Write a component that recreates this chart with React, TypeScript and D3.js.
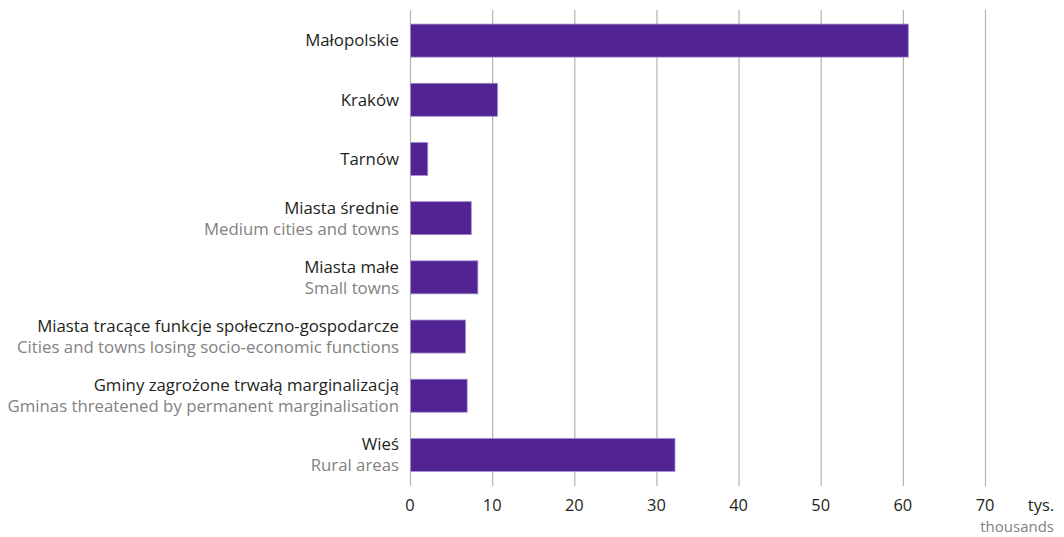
import React, { useRef, useEffect } from "react";
import * as d3 from "d3";

const width = 1064;
const height = 537;

// categories (Polish) and English subtitles
const namesPl = [
  "Małopolskie",
  "Kraków",
  "Tarnów",
  "Miasta średnie",
  "Miasta małe",
  "Miasta tracące funkcje społeczno-gospodarcze",
  "Gminy zagrożone trwałą marginalizacją",
  "Wieś",
];
const namesEn = [
  "",
  "",
  "",
  "Medium cities and towns",
  "Small towns",
  "Cities and towns losing socio-economic functions",
  "Gminas threatened by permanent marginalisation",
  "Rural areas",
];
// values in thousands
const values = [60.6, 10.6, 2.1, 7.4, 8.2, 6.7, 6.9, 32.2];
const ticks = [0, 10, 20, 30, 40, 50, 60, 70];

const font = "'Open Sans', sans-serif";

export default function App() {
  const svgRef = useRef<SVGSVGElement>(null);

  useEffect(() => {
    if (!svgRef.current) return;
    const svg = d3.select(svgRef.current);
    svg.selectAll("*").remove();

    const x = d3.scaleLinear().domain([0, 70]).range([410, 985]);
    const y = d3
      .scaleBand<number>()
      .domain(d3.range(values.length))
      .range([11, 484.5])
      .paddingInner(0.442)
      .paddingOuter(0.221);

    // grid lines
    svg
      .append("g")
      .selectAll("line")
      .data(ticks)
      .join("line")
      .attr("x1", (d) => x(d) + 0.5)
      .attr("x2", (d) => x(d) + 0.5)
      .attr("y1", 10)
      .attr("y2", 486)
      .attr("stroke", "#b3b3b3")
      .attr("stroke-width", 1.2);

    // bars
    svg
      .append("g")
      .selectAll("rect")
      .data(values)
      .join("rect")
      .attr("x", x(0) + 0.5)
      .attr("y", (_, i) => y(i)!)
      .attr("width", (d) => x(d) - x(0))
      .attr("height", y.bandwidth())
      .attr("fill", "#522392")
      .attr("stroke", "#a68fcf")
      .attr("stroke-width", 0.8);

    // category labels
    const lab = svg
      .append("g")
      .attr("font-family", font)
      .attr("font-size", 16.8)
      .attr("text-anchor", "end")
      .selectAll("g")
      .data(namesPl)
      .join("g")
      .attr("transform", (_, i) => `translate(399,${y(i)! + y.bandwidth() / 2})`);

    lab
      .append("text")
      .attr("y", (_, i) => (namesEn[i] ? -10.5 : 0))
      .attr("dy", "0.35em")
      .attr("fill", "#231f20")
      .text((d) => d);

    lab
      .append("text")
      .attr("y", 10.5)
      .attr("dy", "0.35em")
      .attr("fill", "#828282")
      .text((_, i) => namesEn[i]);

    // axis tick labels
    svg
      .append("g")
      .attr("font-family", font)
      .attr("font-size", 16.4)
      .attr("text-anchor", "middle")
      .attr("fill", "#231f20")
      .selectAll("text")
      .data(ticks)
      .join("text")
      .attr("x", (d) => x(d))
      .attr("y", 505)
      .attr("dy", "0.35em")
      .text((d) => d);

    // unit
    svg
      .append("text")
      .attr("x", 1054)
      .attr("y", 505)
      .attr("dy", "0.35em")
      .attr("text-anchor", "end")
      .attr("font-family", font)
      .attr("font-size", 16.4)
      .attr("fill", "#231f20")
      .text("tys.");
    svg
      .append("text")
      .attr("x", 1054)
      .attr("y", 526.5)
      .attr("dy", "0.35em")
      .attr("text-anchor", "end")
      .attr("font-family", font)
      .attr("font-size", 15)
      .attr("fill", "#828282")
      .text("thousands");
  }, []);

  return (
    <svg
      ref={svgRef}
      width={width}
      height={height}
      style={{ position: "absolute", left: 0, top: 0, background: "#fff" }}
    ></svg>
  );
}
